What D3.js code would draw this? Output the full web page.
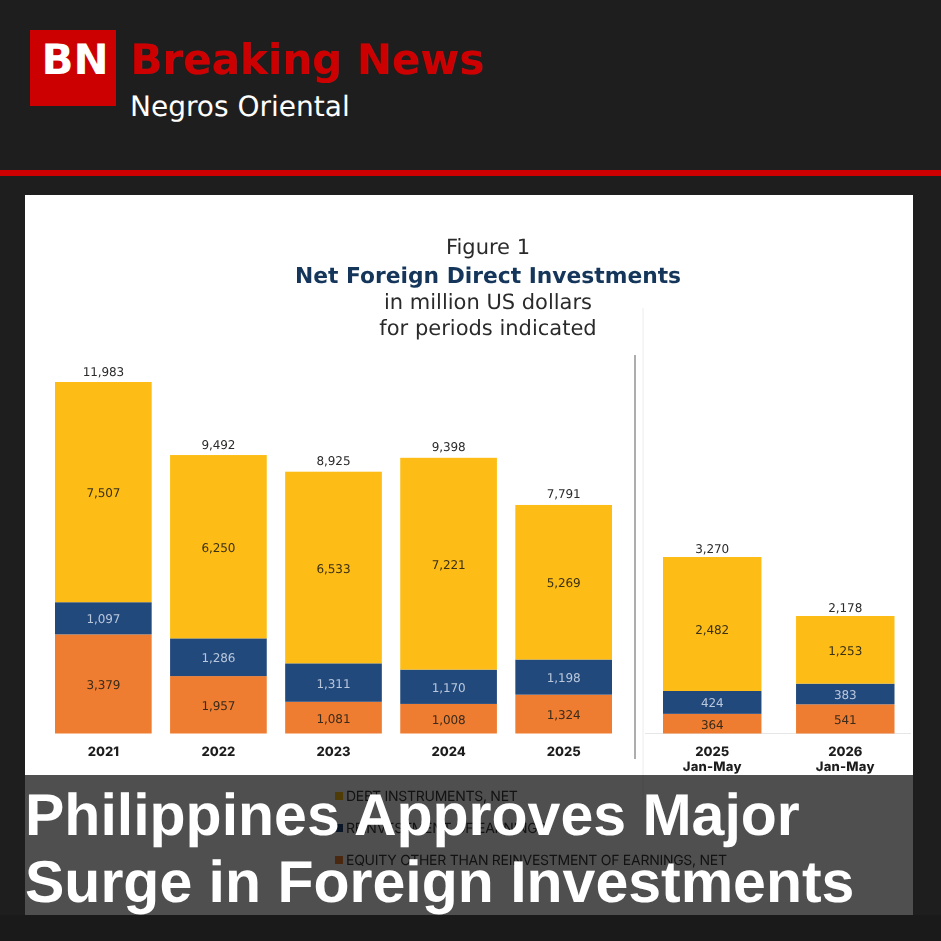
<!DOCTYPE html>
<html>
<head>
<meta charset="utf-8">
<script src="https://cdn.jsdelivr.net/npm/d3@7"></script>
<style>
	html, body { margin: 0; padding: 0; background: #1e1e1e; }
	svg { display: block; text-rendering: geometricPrecision; }
</style>
</head>
<body>
<svg id="chart" width="941" height="941"></svg>
<script>
const years = ['2021', '2022', '2023', '2024', '2025']
const yearsDebt = [7507, 6250, 6533, 7221, 5269]
const yearsReinvest = [1097, 1286, 1311, 1170, 1198]
const yearsEquity = [3379, 1957, 1081, 1008, 1324]
const yearsTotal = [11983, 9492, 8925, 9398, 7791]

const periods = ['2025', '2026']
const periodsDebt = [2482, 1253]
const periodsReinvest = [424, 383]
const periodsEquity = [364, 541]
const periodsTotal = [3270, 2178]

const seriesNames = ['EQUITY OTHER THAN REINVESTMENT OF EARNINGS, NET', 'REINVESTMENT OF EARNINGS', 'DEBT INSTRUMENTS, NET']
const seriesColors = ['#ee7d31', '#23497c', '#fdbd14']
const labelColors = ['#3a2a1a', '#b9c7dc', '#3a3015']

const titleLines = ['Figure 1', 'Net Foreign Direct Investments', 'in million US dollars', 'for periods indicated']
const headline = ['Philippines Approves Major', 'Surge in Foreign Investments']

const svg = d3.select('#chart')
const chartFont = 'Inter, "Open Sans", sans-serif'
const headerFont = '"DejaVu Sans", sans-serif'

const defs = svg.append('defs')
defs.append('filter').attr('id', 'soft')
	.attr('x', 0).attr('y', 0).attr('width', 1).attr('height', 1)
	.append('feGaussianBlur').attr('stdDeviation', 0.45)

// page header
svg.append('rect').attr('width', 941).attr('height', 941).attr('fill', '#1e1e1e')
svg.append('rect').attr('y', 915).attr('width', 941).attr('height', 26).attr('fill', '#1a1a1a')
svg.append('rect').attr('x', 30).attr('y', 30).attr('width', 86).attr('height', 76).attr('fill', '#cc0000')
svg.append('rect').attr('y', 170).attr('width', 941).attr('height', 6).attr('fill', '#cc0000')

svg.append('text').text('BN')
	.attr('x', 75).attr('y', 74).attr('text-anchor', 'middle')
	.attr('font-family', headerFont).attr('font-weight', 700).attr('font-size', 42)
	.attr('fill', '#fff')
svg.append('text').text('Breaking News')
	.attr('x', 130).attr('y', 74)
	.attr('font-family', headerFont).attr('font-weight', 700).attr('font-size', 42)
	.attr('fill', '#cc0000')
svg.append('text').text('Negros Oriental')
	.attr('x', 130).attr('y', 116)
	.attr('font-family', headerFont).attr('font-size', 28)
	.attr('fill', '#fff')

// the chart picture
const panel = svg.append('g').attr('filter', 'url(#soft)')
panel.append('rect').attr('x', 25).attr('y', 195).attr('width', 888).attr('height', 720).attr('fill', '#fff')

const titleY = [254, 283, 309, 335]
titleLines.forEach((t, i) => {
	panel.append('text').text(t)
		.attr('x', 488).attr('y', titleY[i]).attr('text-anchor', 'middle')
		.attr('font-family', headerFont)
		.attr('font-size', i === 1 ? 21.8 : 21)
		.attr('font-weight', i === 1 ? 700 : 400)
		.attr('fill', i === 1 ? '#12365a' : '#2b2b2b')
})

const fmt = d3.format(',')
// the 2,482 label sits below the middle of its bar in the picture
const labelNudge = { 2482: 5 }

function drawGroup({ categories, sublabel, debt, reinvest, equity, totals, totalGap, x, y }) {
	const rows = categories.map((c, i) => ({ c, i, 0: equity[i], 1: reinvest[i], 2: debt[i] }))
	const stacked = d3.stack().keys([0, 1, 2])(rows)

	stacked.forEach((layer, k) => {
		panel.append('g').selectAll('rect').data(layer).join('rect')
			.attr('x', d => x(d.data.i))
			.attr('width', x.bandwidth())
			.attr('y', d => y(d[1]))
			.attr('height', d => y(d[0]) - y(d[1]))
			.attr('fill', seriesColors[k])

		panel.append('g').selectAll('text').data(layer).join('text')
			.text(d => fmt(d[1] - d[0]))
			.attr('x', d => x(d.data.i) + x.bandwidth() / 2)
			.attr('y', d => (y(d[0]) + y(d[1])) / 2 + 5 + (labelNudge[d[1] - d[0]] || 0))
			.attr('text-anchor', 'middle')
			.attr('font-family', headerFont).attr('font-size', 12).attr('letter-spacing', -0.1)
			.attr('fill', labelColors[k])
	})

	panel.append('g').selectAll('text').data(totals).join('text')
		.text(d => fmt(d))
		.attr('x', (d, i) => x(i) + x.bandwidth() / 2)
		.attr('y', d => y(d) - totalGap)
		.attr('text-anchor', 'middle')
		.attr('font-family', headerFont).attr('font-size', 12).attr('letter-spacing', -0.1)
		.attr('fill', '#2b2b2b')

	const axis = d3.axisBottom(x).tickSize(0).tickPadding(13).tickFormat(i => categories[i])
	const axisG = panel.append('g').attr('transform', `translate(0,${y(0)})`).call(axis)
	axisG.select('.domain').remove()
	axisG.selectAll('text')
		.attr('font-family', chartFont).attr('font-size', 13).attr('font-weight', 800)
		.attr('fill', '#1f1f1f')

	if (sublabel) {
		axisG.selectAll('.tick').append('text').text(sublabel)
			.attr('y', 37).attr('text-anchor', 'middle')
			.attr('font-family', chartFont).attr('font-size', 13).attr('font-weight', 800)
			.attr('letter-spacing', 0.2).attr('fill', '#1f1f1f')
	}
}

drawGroup({
	categories: years,
	debt: yearsDebt,
	reinvest: yearsReinvest,
	equity: yearsEquity,
	totals: yearsTotal,
	totalGap: 6.5,
	x: d3.scaleBand().domain(d3.range(5)).range([55, 612]).paddingInner(0.16),
	y: d3.scaleLinear().domain([0, 11983]).range([733.5, 382]),
})

panel.append('line').attr('x1', 645).attr('x2', 911).attr('y1', 733.5).attr('y2', 733.5)
	.attr('stroke', '#e6e6e6')
panel.append('line').attr('x1', 635).attr('x2', 635).attr('y1', 355).attr('y2', 759)
	.attr('stroke', '#8a8a8a').attr('stroke-width', 1.4)
panel.append('line').attr('x1', 643).attr('x2', 643).attr('y1', 308).attr('y2', 800)
	.attr('stroke', '#ececec')

drawGroup({
	categories: periods,
	sublabel: 'Jan-May',
	debt: periodsDebt,
	reinvest: periodsReinvest,
	equity: periodsEquity,
	totals: periodsTotal,
	totalGap: 4,
	x: d3.scaleBand().domain(d3.range(2)).range([663, 894.5]).paddingInner(0.26),
	y: d3.scaleLinear().domain([0, 3270]).range([733.5, 557]),
})

// legend, mostly hidden by the headline band
const legendRow = d3.scalePoint().domain([2, 1, 0]).range([796, 860])
const legend = panel.append('g').selectAll('g').data([2, 1, 0]).join('g')
	.attr('transform', k => `translate(335,${legendRow(k)})`)
legend.append('rect').attr('y', -4).attr('width', 8).attr('height', 8)
	.attr('fill', k => seriesColors[k])
legend.append('text').text(k => seriesNames[k])
	.attr('x', 11).attr('y', 5)
	.attr('font-family', chartFont).attr('font-size', 14).attr('letter-spacing', -0.27)
	.attr('fill', '#3a3a3a')

// headline band
svg.append('rect').attr('x', 25).attr('y', 775).attr('width', 888).attr('height', 140)
	.attr('fill', '#000').attr('fill-opacity', 0.69)
const headlineY = [835, 902]
headline.forEach((t, i) => {
	svg.append('text').text(t)
		.attr('x', 25).attr('y', headlineY[i])
		.attr('font-family', '"Liberation Sans", Arial, sans-serif')
		.attr('font-weight', 700).attr('font-size', 59)
		.attr('fill', '#fff')
})
</script>
</body>
</html>
